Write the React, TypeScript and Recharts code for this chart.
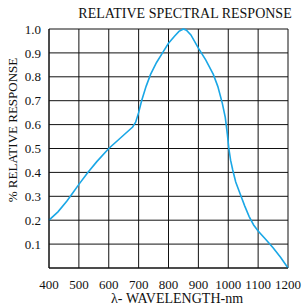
import React from "react";
import { LineChart, Line, XAxis, YAxis, CartesianGrid } from "recharts";

const wavelengths = [400, 430, 460, 480, 500, 530, 560, 600, 640, 680, 690, 700, 710, 725, 740, 760, 780, 800, 820, 835, 850, 860, 875, 900, 925, 950, 965, 980, 990, 997, 1002, 1008, 1015, 1025, 1040, 1055, 1070, 1085, 1100, 1125, 1150, 1175, 1200];
const response = [0.2, 0.235, 0.28, 0.315, 0.35, 0.4, 0.445, 0.5, 0.545, 0.59, 0.61, 0.65, 0.7, 0.76, 0.81, 0.86, 0.9, 0.94, 0.97, 0.99, 1.0, 0.995, 0.975, 0.92, 0.87, 0.81, 0.76, 0.69, 0.63, 0.56, 0.5, 0.45, 0.41, 0.36, 0.31, 0.26, 0.215, 0.18, 0.155, 0.12, 0.085, 0.045, 0.0];
const xTicks = [400, 500, 600, 700, 800, 900, 1000, 1100, 1200];
const yTicks = [0, 0.1, 0.2, 0.3, 0.4, 0.5, 0.6, 0.7, 0.8, 0.9, 1.0];

const data = wavelengths.map((w, i) => ({ w, r: response[i] }));

const FONT = "'Liberation Serif', 'Times New Roman', serif";

export default function App() {
  return (
    <div style={{ position: "absolute", left: 0, top: 0, width: 305, height: 308, background: "#fff" }}>
      <LineChart width={305} height={308} data={data} margin={{ top: 29, right: 17, left: 0, bottom: 0 }}>
        <CartesianGrid stroke="#111" strokeWidth={1} />
        <XAxis
          dataKey="w"
          type="number"
          domain={[400, 1200]}
          ticks={xTicks}
          height={40}
          tickSize={10}
          tickLine={false}
          axisLine={{ stroke: "#111" }}
          tick={{ fill: "#111", fontSize: 13, fontFamily: FONT }}
          interval={0}
        />
        <YAxis
          type="number"
          domain={[0, 1]}
          ticks={yTicks}
          width={49}
          tickSize={6}
          tickLine={false}
          axisLine={{ stroke: "#111" }}
          tick={{ fill: "#111", fontSize: 13, fontFamily: FONT }}
          tickFormatter={(v: number) => (v === 0 ? "" : v.toFixed(1))}
          interval={0}
        />
        <Line
          type="linear"
          dataKey="r"
          stroke="#1aa7e6"
          strokeWidth={1.6}
          dot={false}
          isAnimationActive={false}
        />
        <text x={185} y={18} textAnchor="middle" fontSize={14} fontFamily={FONT} fill="#111">
          RELATIVE SPECTRAL RESPONSE
        </text>
        <text x={177} y={303} textAnchor="middle" fontSize={14} fontFamily={FONT} fill="#111">
          λ- WAVELENGTH-nm
        </text>
        <text
          x={17}
          y={130}
          textAnchor="middle"
          fontSize={13}
          fontFamily={FONT}
          fill="#111"
          transform="rotate(-90 17 130)"
        >
          % RELATIVE RESPONSE
        </text>
      </LineChart>
    </div>
  );
}
